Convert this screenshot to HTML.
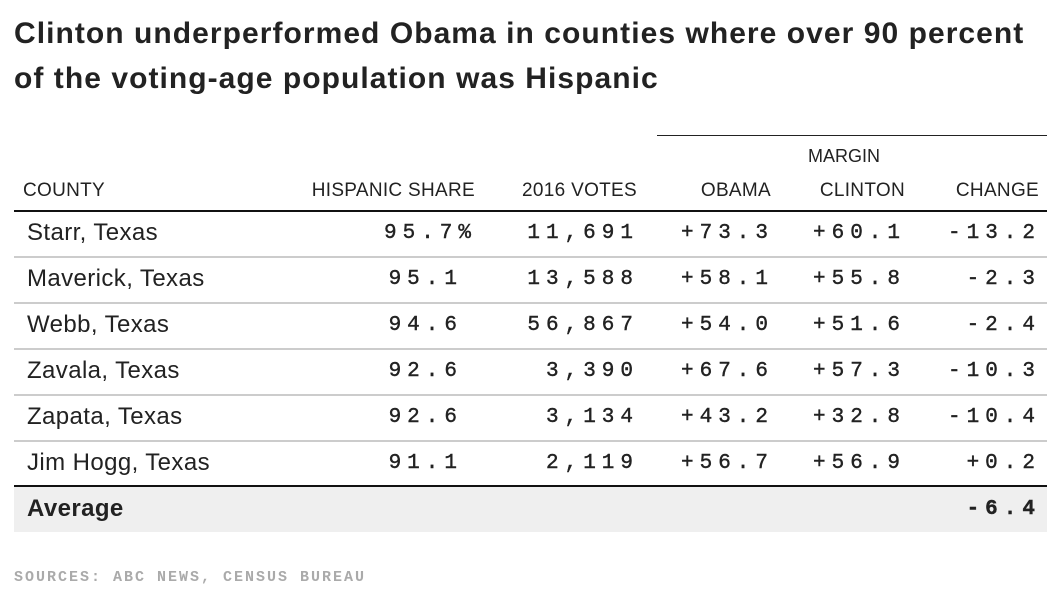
<!DOCTYPE html>
<html><head><meta charset="utf-8"><style>
body{margin:0;width:1054px;height:612px;background:#fff;position:relative;overflow:hidden;font-family:"Liberation Sans",sans-serif;color:#222}
.a{position:absolute;white-space:nowrap}
.t{left:14px;font-weight:bold;font-size:30px;letter-spacing:1.05px;color:#222}
.h{font-size:19px;letter-spacing:0.3px;color:#222;top:180px}
.n{font-family:"Liberation Mono",monospace;font-size:21px;letter-spacing:6px;color:#222;-webkit-text-stroke:0.4px #222}
.c{font-size:24px;letter-spacing:0.4px;left:27px}
.line{position:absolute;left:14px;width:1033px}
</style></head><body>
<div class="a t" style="top:17px">Clinton underperformed Obama in counties where over 90 percent</div>
<div class="a t" style="top:62px">of the voting-age population was Hispanic</div>
<div class="a" style="left:808px;top:146px;font-size:18px">MARGIN</div>
<div class="a" style="left:657px;top:135px;width:390px;height:1px;background:#222"></div>
<div class="a h" style="left:23px">COUNTY</div>
<div class="a h" style="right:579px">HISPANIC SHARE</div>
<div class="a h" style="right:417px">2016 VOTES</div>
<div class="a h" style="right:283px">OBAMA</div>
<div class="a h" style="right:149px">CLINTON</div>
<div class="a h" style="right:15px">CHANGE</div>
<div class="line" style="top:210px;height:2px;background:#111"></div>
<div class="line" style="top:487px;height:45px;background:#efefef"></div>
<div class="line" style="top:485px;height:2px;background:#111"></div>
<div class="a c" style="top:495px;font-weight:bold;color:#222">Average</div>
<div class="a n" style="top:498px;right:13px;font-weight:bold">-6.4</div>
<div class="a" style="left:14px;top:569px;font-family:'Liberation Mono',monospace;font-size:15px;font-weight:bold;letter-spacing:2px;color:#aaa">SOURCES: ABC NEWS, CENSUS BUREAU</div>
<script>
const counties=["Starr, Texas","Maverick, Texas","Webb, Texas","Zavala, Texas","Zapata, Texas","Jim Hogg, Texas"];
const shares=["95.7","95.1","94.6","92.6","92.6","91.1"];
const votes=["11,691","13,588","56,867","3,390","3,134","2,119"];
const obama=["+73.3","+58.1","+54.0","+67.6","+43.2","+56.7"];
const clinton=["+60.1","+55.8","+51.6","+57.3","+32.8","+56.9"];
const change=["-13.2","-2.3","-2.4","-10.3","-10.4","+0.2"];
const rowTop=i=>212+i*46;
function add(txt,cls,style,name){const d=document.createElement('div');d.className='a '+cls;d.textContent=txt;d.style.cssText=style;


document.body.appendChild(d);return d;}
counties.forEach((c,i)=>{
const t=rowTop(i);
add(c,'c','top:'+(t+7)+'px','county-name');
add(shares[i]+(i===0?'%':''),'n','top:'+(t+10)+'px;right:'+(i===0?577:591)+'px','hispanic-share');
add(votes[i],'n','top:'+(t+10)+'px;right:415px','votes-2016');
add(obama[i],'n','top:'+(t+10)+'px;right:280px','obama-margin');
add(clinton[i],'n','top:'+(t+10)+'px;right:148px','clinton-margin');
add(change[i],'n','top:'+(t+10)+'px;right:13px','margin-change');
if(i<counties.length-1){const l=add('','line','top:'+(t+44)+'px;height:2px;background:#ccc','row-rule');l.className='line';}
});
</script>
</body></html>
